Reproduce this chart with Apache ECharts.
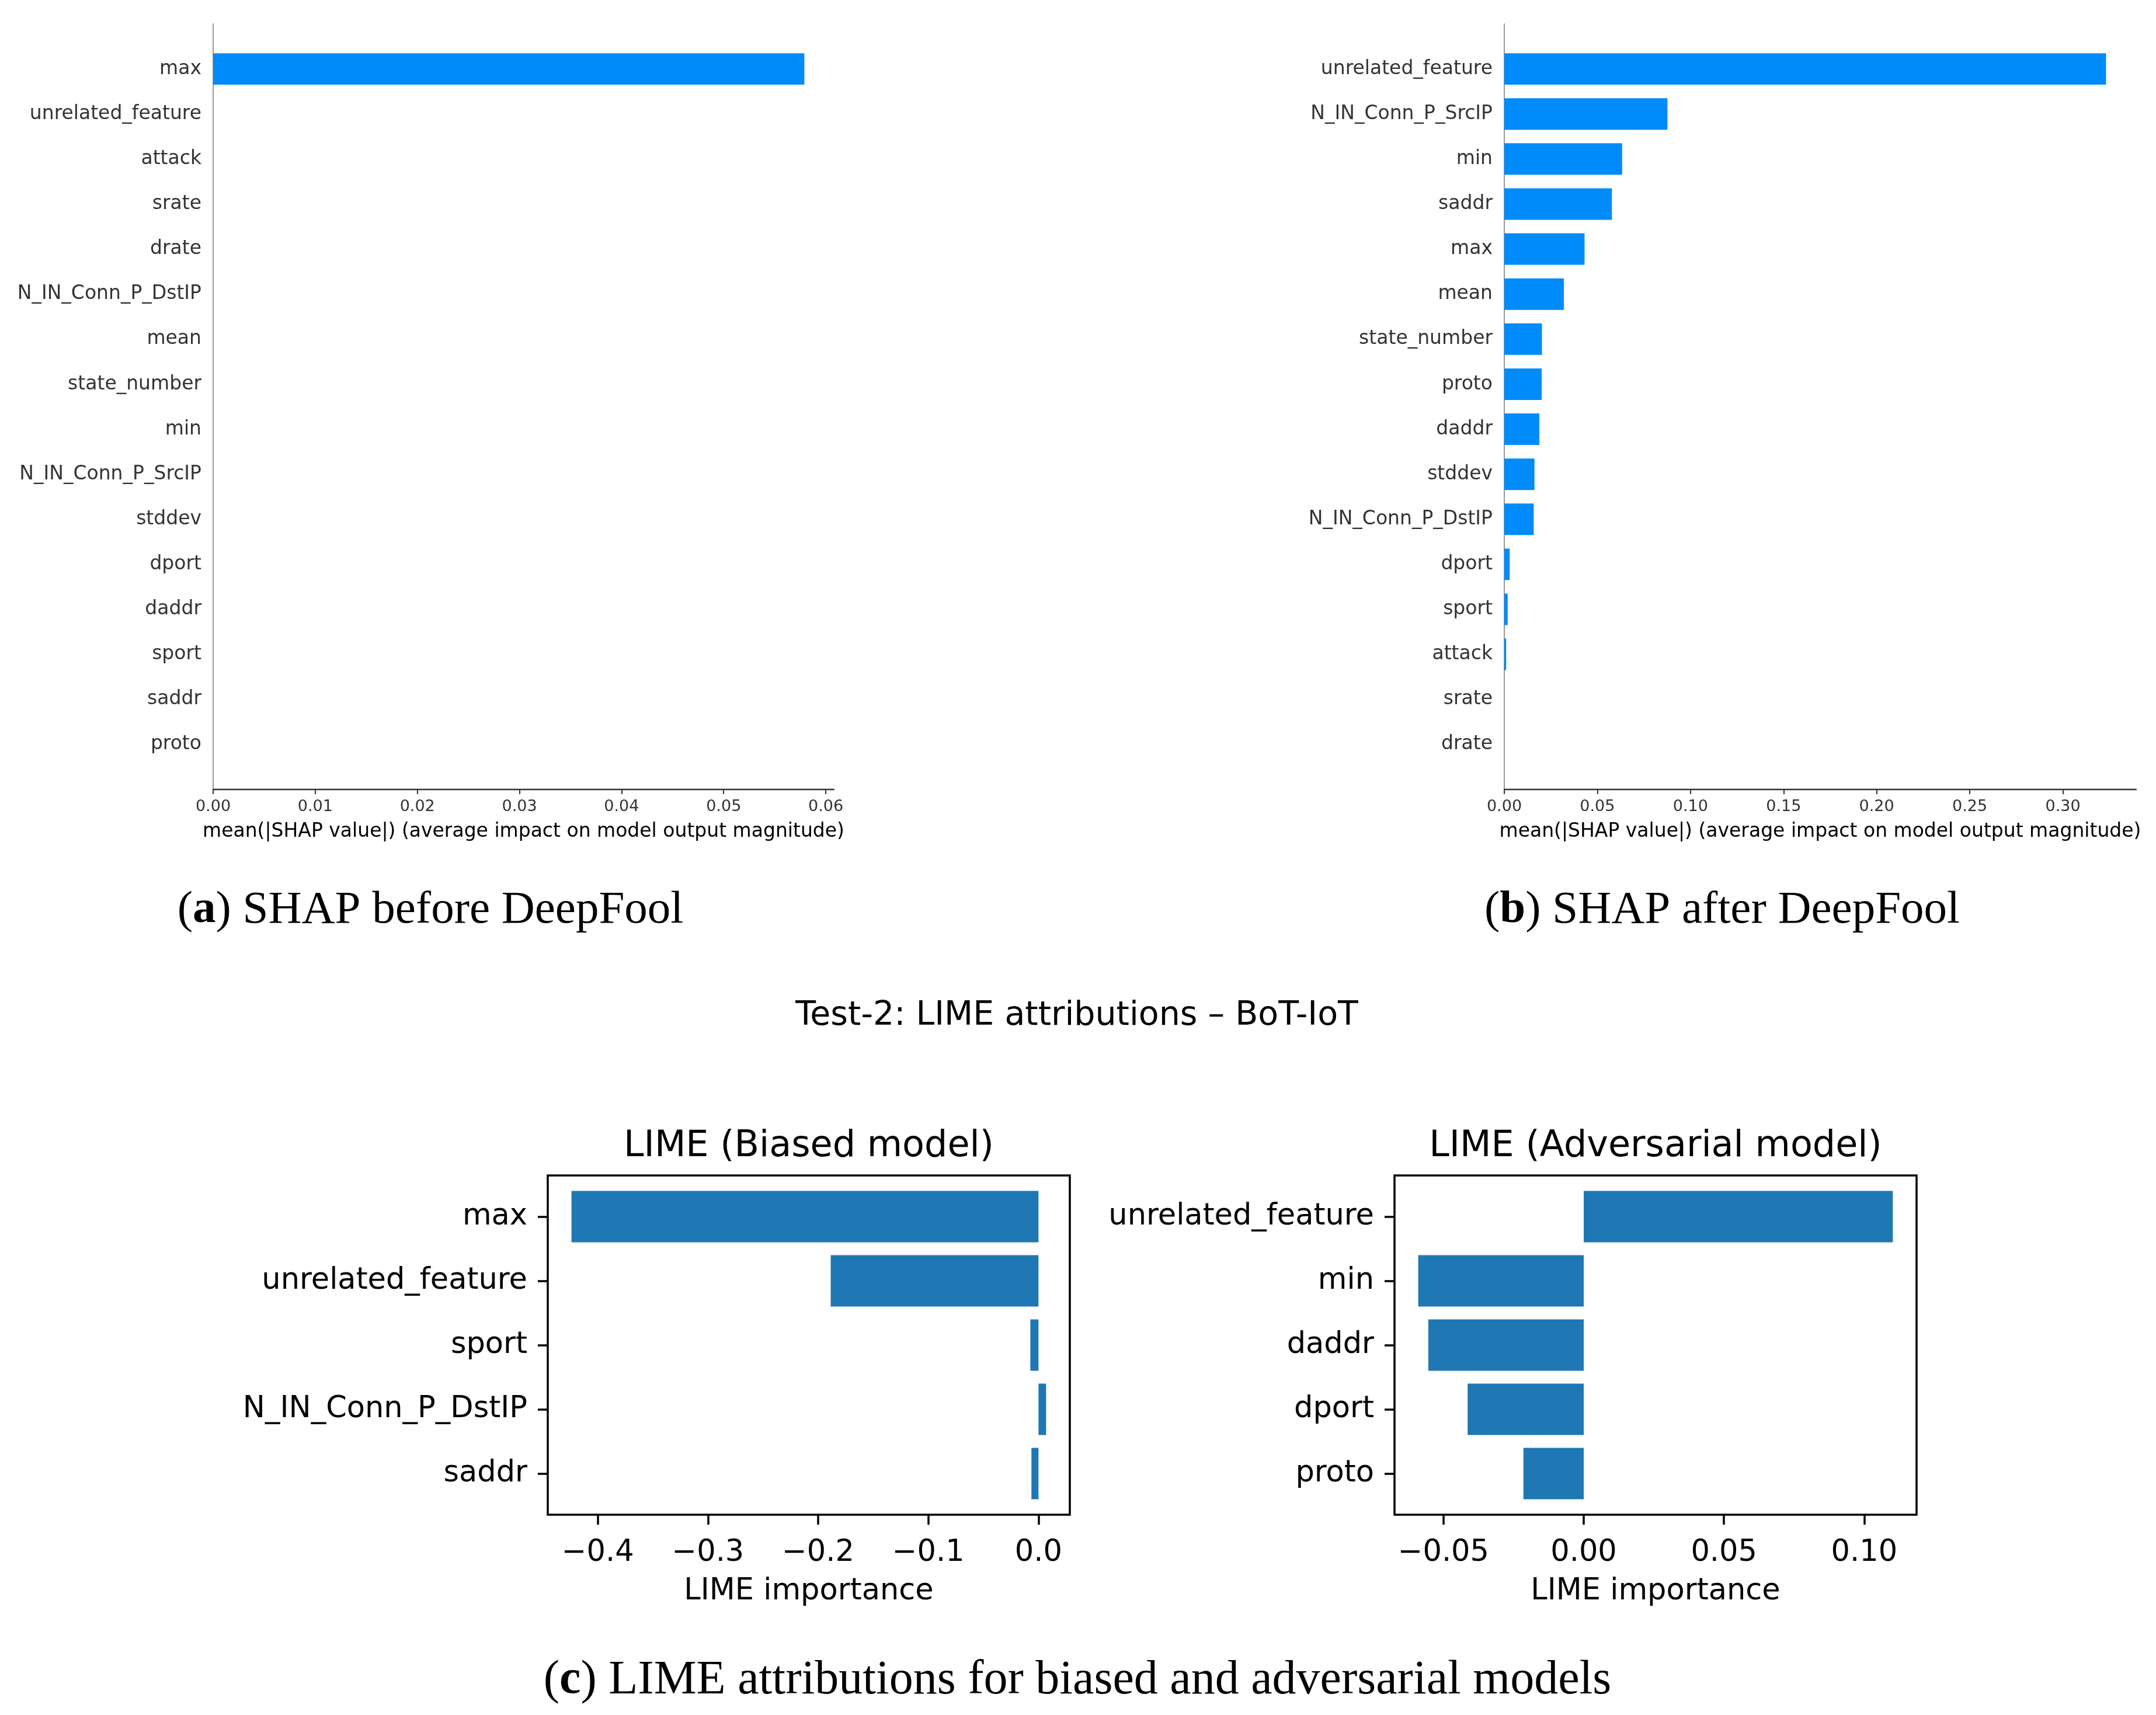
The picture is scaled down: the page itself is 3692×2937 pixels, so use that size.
<!DOCTYPE html>
<html><head><meta charset="utf-8">
<script src="https://cdn.jsdelivr.net/npm/echarts@6/dist/echarts.min.js"></script>
<style>html,body{margin:0;padding:0;background:#fff}#c{width:3692px;height:2937px}</style>
</head><body><div id="c"></div>
<script>
// ---------------- DATA ----------------
const shapBeforeFeatures = ['max','unrelated_feature','attack','srate','drate','N_IN_Conn_P_DstIP','mean','state_number','min','N_IN_Conn_P_SrcIP','stddev','dport','daddr','sport','saddr','proto'];
const shapBeforeValues   = [0.0579,0,0,0,0,0,0,0,0,0,0,0,0,0,0,0];
const shapBeforeTicks    = [0,0.01,0.02,0.03,0.04,0.05,0.06];

const shapAfterFeatures = ['unrelated_feature','N_IN_Conn_P_SrcIP','min','saddr','max','mean','state_number','proto','daddr','stddev','N_IN_Conn_P_DstIP','dport','sport','attack','srate','drate'];
const shapAfterValues   = [0.3232,0.0876,0.0633,0.0578,0.0431,0.0320,0.0202,0.0201,0.0188,0.0162,0.0158,0.0029,0.0018,0.0010,0,0];
const shapAfterTicks    = [0,0.05,0.10,0.15,0.20,0.25,0.30];

const limeBiasedFeatures = ['max','unrelated_feature','sport','N_IN_Conn_P_DstIP','saddr'];
const limeBiasedValues   = [-0.4239,-0.1886,-0.0074,0.0069,-0.0064];
const limeBiasedTicks    = [-0.4,-0.3,-0.2,-0.1,0.0];

const limeAdvFeatures = ['unrelated_feature','min','daddr','dport','proto'];
const limeAdvValues   = [0.1102,-0.0590,-0.0554,-0.0414,-0.0215];
const limeAdvTicks    = [-0.05,0.00,0.05,0.10];

const shapXName = 'mean(|SHAP value|) (average impact on model output magnitude)';
const limeXName = 'LIME importance';

// ---------------- BUILD ----------------
const SANS = '"DejaVu Sans", sans-serif';
const SERIF = '"Liberation Serif", serif';
const fmt = dec => v => (v < 0 ? '\u2212' : '') + Math.abs(v).toFixed(dec);

const grids = [], xAxes = [], yAxes = [], series = [];

function shapPanel(L, T, W, H, cats, vals, ticks, dec) {
  const n = cats.length;
  const unit = H / (n + 1);            // ylim(-1, n)
  const xmax = Math.max(...vals) * 1.05;
  const gf = grids.length;
  grids.push({left: L, top: T, width: W, height: H});
  grids.push({left: L, top: T + unit / 2, width: W, height: unit * n});
  xAxes.push({
    type: 'value', gridIndex: gf, min: 0, max: xmax,
    axisLine: {show: true, onZero: false, lineStyle: {color: '#333333', width: 2.3}},
    axisTick: {show: true, customValues: ticks, length: 8, lineStyle: {color: '#333333', width: 2}},
    axisLabel: {customValues: ticks, formatter: fmt(dec), fontSize: 27, color: '#333333', fontFamily: SANS, margin: 16},
    splitLine: {show: false},
    name: shapXName, nameLocation: 'middle', nameGap: 56,
    nameTextStyle: {fontSize: 33, color: '#000', fontFamily: SANS}
  });
  yAxes.push({
    type: 'value', gridIndex: gf, min: 0, max: 1,
    axisLine: {show: true, onZero: false, lineStyle: {color: '#999999', width: 2}},
    axisTick: {show: false}, axisLabel: {show: false}, splitLine: {show: false}
  });
  xAxes.push({type: 'value', gridIndex: gf + 1, min: 0, max: xmax, show: false, splitLine: {show: false}});
  yAxes.push({
    type: 'category', gridIndex: gf + 1, data: cats, inverse: true,
    axisLine: {show: false, onZero: false}, axisTick: {show: false},
    axisLabel: {fontSize: 33, color: '#333333', fontFamily: SANS, margin: 20, padding: [18, 0, 0, 0]}
  });
  series.push({
    type: 'bar', xAxisIndex: xAxes.length - 1, yAxisIndex: yAxes.length - 1,
    data: vals, barWidth: '70%', itemStyle: {color: '#008bfb'}, silent: true
  });
}

function limePanel(L, T, W, H, cats, vals, ticks, dec) {
  const n = cats.length;
  const lo = Math.min(0, ...vals), hi = Math.max(0, ...vals);
  const span = hi - lo;
  const xmin = lo - 0.05 * span, xmax = hi + 0.05 * span;
  const ySpan = (n - 1 + 0.8) * 1.1;    // matplotlib default 5% margins
  const unit = H / ySpan;
  const off = (0.4 + 0.05 * (n - 1 + 0.8)) - 0.5;
  const gf = grids.length;
  grids.push({left: L, top: T, width: W, height: H, show: true, borderColor: '#000', borderWidth: 3.5, backgroundColor: 'transparent'});
  grids.push({left: L, top: T + off * unit, width: W, height: unit * n});
  xAxes.push({
    type: 'value', gridIndex: gf, min: xmin, max: xmax,
    axisLine: {show: false, onZero: false},
    axisTick: {show: true, customValues: ticks, length: 17, lineStyle: {color: '#000', width: 3.5}},
    axisLabel: {customValues: ticks, formatter: fmt(dec), fontSize: 51, color: '#000', fontFamily: SANS, margin: 40},
    splitLine: {show: false},
    name: limeXName, nameLocation: 'middle', nameGap: 106,
    nameTextStyle: {fontSize: 51, color: '#000', fontFamily: SANS}
  });
  yAxes.push({type: 'value', gridIndex: gf, min: 0, max: 1, show: false, splitLine: {show: false}});
  xAxes.push({type: 'value', gridIndex: gf + 1, min: xmin, max: xmax, show: false, splitLine: {show: false}});
  yAxes.push({
    type: 'category', gridIndex: gf + 1, data: cats, inverse: true,
    axisLine: {show: false, onZero: false},
    axisTick: {show: true, alignWithLabel: true, length: 17, lineStyle: {color: '#000', width: 3.5}},
    axisLabel: {fontSize: 51, color: '#000', fontFamily: SANS, margin: 35, padding: [18, 0, 0, 0]}
  });
  series.push({
    type: 'bar', xAxisIndex: xAxes.length - 1, yAxisIndex: yAxes.length - 1,
    data: vals, barWidth: '80%', itemStyle: {color: '#1f77b4'}, silent: true
  });
}

shapPanel(365, 41, 1063, 1311, shapBeforeFeatures, shapBeforeValues, shapBeforeTicks, 2);
shapPanel(2576, 41, 1082, 1311, shapAfterFeatures, shapAfterValues, shapAfterTicks, 2);
limePanel(938, 2013, 894, 581, limeBiasedFeatures, limeBiasedValues, limeBiasedTicks, 1);
limePanel(2388, 2013, 894, 581, limeAdvFeatures, limeAdvValues, limeAdvTicks, 2);

function txt(x, y, text, size, family, rich) {
  return {
    type: 'text', x: x, y: y, silent: true,
    style: {text: text, fontSize: size, fontFamily: family, fill: '#000',
            textAlign: 'center', textVerticalAlign: 'middle', rich: rich || undefined}
  };
}
const boldRich = {b: {fontSize: 79, fontFamily: SERIF, fontWeight: 'bold', fill: '#000'}};
const boldRichC = {b: {fontSize: 82, fontFamily: SERIF, fontWeight: 'bold', fill: '#000'}};

const option = {
  backgroundColor: '#fff',
  animation: false,
  grid: grids, xAxis: xAxes, yAxis: yAxes, series: series,
  graphic: [
    txt(737, 1559, '({b|a}) SHAP before DeepFool', 79, SERIF, boldRich),
    txt(2949, 1559, '({b|b}) SHAP after DeepFool', 79, SERIF, boldRich),
    txt(1844, 1740, 'Test-2: LIME attributions \u2013 BoT-IoT', 57, SANS),
    txt(1385, 1964, 'LIME (Biased model)', 62, SANS),
    txt(2835, 1964, 'LIME (Adversarial model)', 62, SANS),
    txt(1845, 2878, '({b|c}) LIME attributions for biased and adversarial models', 82, SERIF, boldRichC)
  ]
};
const chart = echarts.init(document.getElementById('c'), null, {renderer: 'canvas', width: 3692, height: 2937});
chart.setOption(option);
</script>
</body></html>
